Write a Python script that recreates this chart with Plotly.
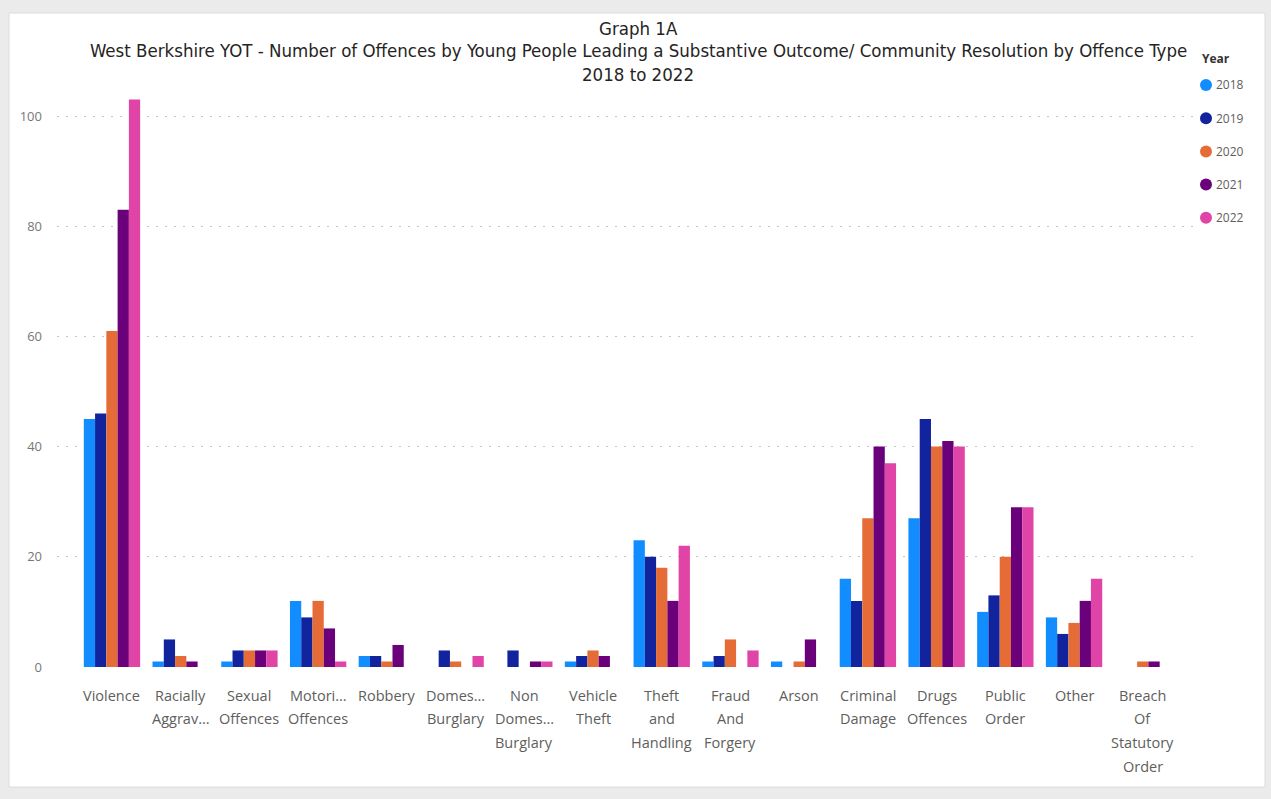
import plotly.graph_objects as go

# Offence types (wrapped as shown on the category axis)
categories = [
    "Violence", "Racially Aggravated", "Sexual Offences", "Motoring Offences",
    "Robbery", "Domestic Burglary", "Non Domestic Burglary", "Vehicle Theft",
    "Theft and Handling", "Fraud And Forgery", "Arson", "Criminal Damage",
    "Drugs Offences", "Public Order", "Other", "Breach Of Statutory Order",
]
category_lines = [
    ["Violence"], ["Racially", "Aggrav..."], ["Sexual", "Offences"],
    ["Motori...", "Offences"], ["Robbery"], ["Domes...", "Burglary"],
    ["Non", "Domes...", "Burglary"], ["Vehicle", "Theft"],
    ["Theft", "and", "Handling"], ["Fraud", "And", "Forgery"], ["Arson"],
    ["Criminal", "Damage"], ["Drugs", "Offences"], ["Public", "Order"],
    ["Other"], ["Breach", "Of", "Statutory", "Order"],
]

years = ["2018", "2019", "2020", "2021", "2022"]
values_2018 = [45, 1, 1, 12, 2, 0, 0, 1, 23, 1, 1, 16, 27, 10, 9, 0]
values_2019 = [46, 5, 3, 9, 2, 3, 3, 2, 20, 2, 0, 12, 45, 13, 6, 0]
values_2020 = [61, 2, 3, 12, 1, 1, 0, 3, 18, 5, 1, 27, 40, 20, 8, 1]
values_2021 = [83, 1, 3, 7, 4, 0, 1, 2, 12, 0, 5, 40, 41, 29, 12, 1]
values_2022 = [103, 0, 3, 1, 0, 2, 1, 0, 22, 3, 0, 37, 40, 29, 16, 0]
series = [values_2018, values_2019, values_2020, values_2021, values_2022]
colors = ["#118DFF", "#12239E", "#E66C37", "#6B007B", "#E044A7"]

y_ticks = [0, 20, 40, 60, 80, 100]

W, H = 1271, 799
ML, MR, MT, MB = 57, 76, 88, 132
PW, PH = W - ML - MR, H - MT - MB


def px_x(px):
    return (px - ML) / PW


def px_y(py):
    return (H - MB - py) / PH


fig = go.Figure()

for year, vals, col in zip(years, series, colors):
    fig.add_trace(go.Bar(
        x=list(range(len(categories))), y=vals, name=year,
        marker=dict(color=col, line=dict(width=0)),
        showlegend=False,
    ))

annotations = []
shapes = [dict(
    type="rect", xref="paper", yref="paper", layer="below",
    x0=px_x(9), x1=px_x(1265), y0=px_y(787), y1=px_y(13),
    fillcolor="white", line=dict(color="#dcdcdc", width=1),
)]

# Category labels, one line each
for i, lines in enumerate(category_lines):
    for j, line in enumerate(lines):
        annotations.append(dict(
            x=i, xref="x", y=0, yref="paper", yanchor="middle",
            yshift=-(28 + 23.7 * j), text=line, showarrow=False,
            font=dict(family="Open Sans", size=14.5, color="#605E5C"),
        ))

# Title lines
title_lines = [
    "Graph 1A",
    "West Berkshire YOT - Number of Offences by Young People Leading a Substantive Outcome/ Community Resolution by Offence Type",
    "2018 to 2022",
]
for line, py in zip(title_lines, [28, 50, 74]):
    annotations.append(dict(
        x=px_x(638.5), xref="paper", y=px_y(py), yref="paper",
        xanchor="center", yanchor="middle", text=line, showarrow=False,
        font=dict(family="DejaVu Sans Condensed", size=18.5, color="#252423"),
    ))

# Legend: title plus one round swatch per year
annotations.append(dict(
    x=px_x(1200), xref="paper", y=px_y(58), yref="paper",
    xanchor="left", yanchor="middle", text="<b>Year</b>", showarrow=False,
    font=dict(family="Open Sans", size=12, color="#333333"),
))
for k, (year, col) in enumerate(zip(years, colors)):
    cy = 85 + 33.2 * k
    shapes.append(dict(
        type="circle", xref="paper", yref="paper",
        xsizemode="pixel", ysizemode="pixel",
        xanchor=px_x(1206), yanchor=px_y(cy),
        x0=-6, x1=6, y0=-6, y1=6,
        fillcolor=col, line=dict(width=0),
    ))
    annotations.append(dict(
        x=px_x(1214), xref="paper", y=px_y(cy), yref="paper",
        xanchor="left", yanchor="middle", text=year, showarrow=False,
        font=dict(family="Open Sans", size=12, color="#605E5C"),
    ))

fig.update_layout(
    width=W, height=H,
    margin=dict(l=ML, r=MR, t=MT, b=MB, pad=0),
    paper_bgcolor="#ebebeb",
    plot_bgcolor="rgba(0,0,0,0)",
    barmode="group", bargap=0.18, bargroupgap=0,
    font=dict(family="Open Sans", color="#605E5C"),
    xaxis=dict(
        range=[-0.80, 15.76], showticklabels=False, showgrid=False,
        zeroline=False, showline=False, ticks="",
    ),
    yaxis=dict(
        range=[0, PH / 5.51], tickvals=y_ticks, ticktext=[str(t) for t in y_ticks],
        showgrid=True, gridcolor="#c4c4c4", griddash="2px,7px", gridwidth=1.2,
        zeroline=False, showline=False, ticks="",
        tickfont=dict(family="Open Sans", size=13, color="#777777"),
        ticklabelstandoff=14,
    ),
    annotations=annotations,
    shapes=shapes,
    showlegend=False,
)

fig.write_html("out.html")
